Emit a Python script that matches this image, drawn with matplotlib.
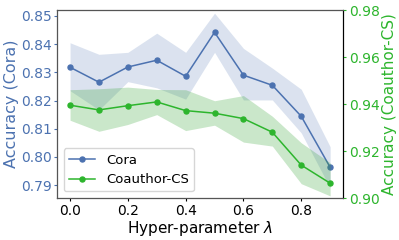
import numpy as np
import matplotlib.pyplot as plt

lambdas = [0.0, 0.1, 0.2, 0.3, 0.4, 0.5, 0.6, 0.7, 0.8, 0.9]

cora_mean = [0.8318, 0.8265, 0.8319, 0.8343, 0.8286, 0.8442, 0.8290, 0.8254, 0.8144, 0.7963]
cora_upper = [0.8405, 0.8364, 0.8371, 0.8439, 0.8371, 0.8510, 0.8385, 0.8315, 0.8240, 0.8036]
cora_lower = [0.8235, 0.8167, 0.8267, 0.8245, 0.8205, 0.8371, 0.8202, 0.8202, 0.8085, 0.7890]

cs_mean = [0.9395, 0.9375, 0.9393, 0.9409, 0.9372, 0.9361, 0.9338, 0.9280, 0.9140, 0.9063]
cs_upper = [0.9461, 0.9465, 0.9472, 0.9462, 0.9461, 0.9414, 0.9436, 0.9348, 0.9235, 0.9150]
cs_lower = [0.9331, 0.9284, 0.9313, 0.9355, 0.9287, 0.9310, 0.9238, 0.9221, 0.9061, 0.9009]

BLUE = '#4C72B0'
GREEN = '#2DB52D'
GREEN_FILL = '#2ca02c'

fig, ax = plt.subplots(figsize=(3.99, 2.4), dpi=100)
ax2 = ax.twinx()

l1, = ax.plot(lambdas, cora_mean, color=BLUE, marker='o', markersize=3.6, lw=1.1, label='Cora')
ax.fill_between(lambdas, cora_lower, cora_upper, color=BLUE, alpha=0.2, lw=0)
l2, = ax2.plot(lambdas, cs_mean, color=GREEN, marker='o', markersize=3.6, lw=1.1, label='Coauthor-CS')
ax2.fill_between(lambdas, cs_lower, cs_upper, color=GREEN_FILL, alpha=0.25, lw=0)

ax.set_ylim(0.7854, 0.8521)
ax.set_yticks([0.79, 0.80, 0.81, 0.82, 0.83, 0.84, 0.85])
ax2.set_ylim(0.90, 0.98)
ax2.set_yticks([0.90, 0.92, 0.94, 0.96, 0.98])
ax.set_xticks([0.0, 0.2, 0.4, 0.6, 0.8])

ax.tick_params(axis='y', colors=BLUE, labelsize=10, length=2.5, pad=1.5)
ax.tick_params(axis='x', labelsize=10, length=2.5, pad=1.5)
ax2.tick_params(axis='y', colors=GREEN, labelsize=10, length=2.5, pad=1.5)
ax.set_ylabel('Accuracy (Cora)', color=BLUE, fontsize=11.5, labelpad=1)
ax2.set_ylabel('Accuracy (Coauthor-CS)', color=GREEN, fontsize=11, labelpad=2)
ax.set_xlabel('Hyper-parameter $\\lambda$', fontsize=11, labelpad=1)

for s in ['left', 'top', 'bottom']:
    ax2.spines[s].set_color('#555555')
ax2.spines['right'].set_color('black')

ax.legend(handles=[l1, l2], loc='lower left', fontsize=9.5)

fig.subplots_adjust(left=0.143, right=0.86, top=0.958, bottom=0.175)
fig.savefig('out.png', dpi=100)
